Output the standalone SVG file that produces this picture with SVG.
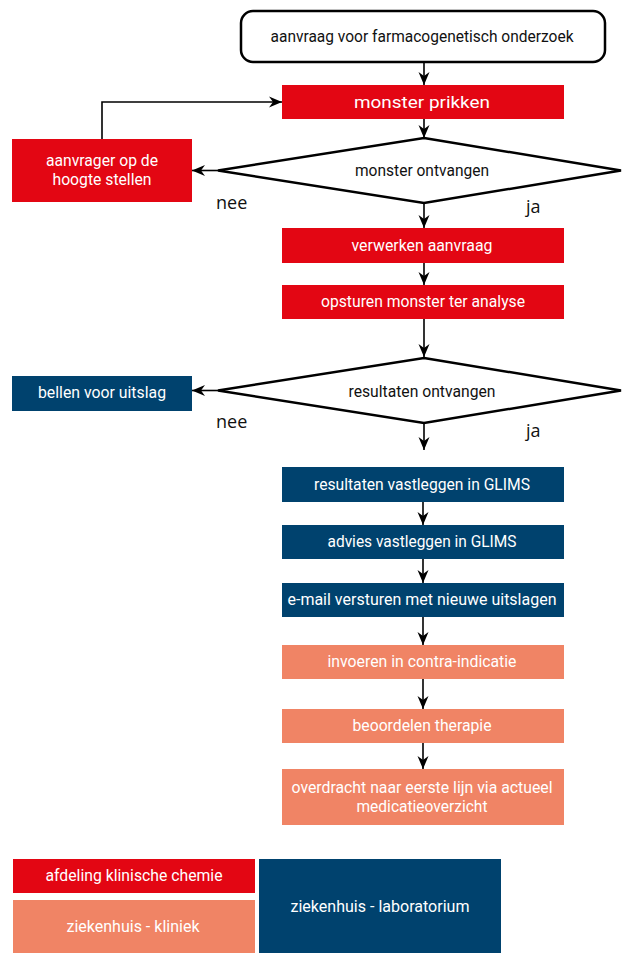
<svg xmlns="http://www.w3.org/2000/svg" width="622" height="953" viewBox="0 0 622 953">
<defs>
<style>
.red{fill:#E30613}
.blue{fill:#00426E}
.sal{fill:#F08465}
.wt{fill:#FFFFFF;font-family:Roboto,"Liberation Sans",sans-serif;font-size:16px;text-anchor:middle}
.bt{fill:#111111;font-family:Roboto,"Liberation Sans",sans-serif;font-size:16px;text-anchor:middle}
.lbl{fill:#111111;font-family:"Open Sans","DejaVu Sans",sans-serif;font-size:18px}
.dia{fill:#FFFFFF;stroke:#000;stroke-width:2.5;stroke-linejoin:miter}
.ln{fill:none;stroke:#000;stroke-width:1.6}
</style>
<marker id="ah" viewBox="0 0 13 12" refX="13" refY="6" markerWidth="13" markerHeight="12" markerUnits="userSpaceOnUse" orient="auto">
<path d="M0,0.5 L13,6 L0,11.5 L4,6 z" fill="#000"/>
</marker>
</defs>
<rect width="622" height="953" fill="#FFFFFF"/>

<g id="connectors">
<line class="ln" x1="424" y1="63" x2="424" y2="85" marker-end="url(#ah)"/>
<line class="ln" x1="424" y1="119" x2="424" y2="138" marker-end="url(#ah)"/>
<line class="ln" x1="218" y1="170.5" x2="192" y2="170.5" marker-end="url(#ah)"/>
<polyline class="ln" points="102,139 102,102 282,102" stroke-width="1.3" marker-end="url(#ah)"/>
<line class="ln" x1="424" y1="204" x2="424" y2="228" marker-end="url(#ah)"/>
<line class="ln" x1="424" y1="263" x2="424" y2="285" marker-end="url(#ah)"/>
<line class="ln" x1="424" y1="319" x2="424" y2="357" marker-end="url(#ah)"/>
<line class="ln" x1="218" y1="390.5" x2="192" y2="390.5" marker-end="url(#ah)"/>
<line class="ln" x1="424" y1="424" x2="424" y2="450" marker-end="url(#ah)"/>
<line class="ln" x1="423" y1="502" x2="423" y2="525" marker-end="url(#ah)"/>
<line class="ln" x1="423" y1="559" x2="423" y2="583" marker-end="url(#ah)"/>
<line class="ln" x1="423" y1="617" x2="423" y2="645" marker-end="url(#ah)"/>
<line class="ln" x1="423" y1="679" x2="423" y2="709" marker-end="url(#ah)"/>
<line class="ln" x1="423" y1="743" x2="423" y2="769" marker-end="url(#ah)"/>
</g>

<g id="start">
<rect x="241" y="11" width="364" height="51" rx="12" ry="12" fill="#FFFFFF" stroke="#000" stroke-width="2.5"/>
<text class="bt" x="422" y="42" textLength="303" lengthAdjust="spacingAndGlyphs">aanvraag voor farmacogenetisch onderzoek</text>
</g>

<g id="monster-prikken">
<rect class="red" x="282" y="85" width="282" height="34"/>
<text class="wt" x="422" y="108" font-size="18" textLength="136" lengthAdjust="spacingAndGlyphs">monster prikken</text>
</g>

<g id="monster-ontvangen">
<polygon class="dia" points="424,138 621,170.5 424,203 218,170.5"/>
<text class="bt" x="422" y="176" textLength="134" lengthAdjust="spacingAndGlyphs">monster ontvangen</text>
</g>

<g id="aanvrager">
<rect class="red" x="12" y="139" width="180" height="63"/>
<text class="wt" x="102" y="166" textLength="112" lengthAdjust="spacingAndGlyphs">aanvrager op de</text>
<text class="wt" x="102" y="185" textLength="99" lengthAdjust="spacingAndGlyphs">hoogte stellen</text>
</g>

<text class="lbl" x="216" y="209">nee</text>
<text class="lbl" x="526" y="213">ja</text>

<g id="verwerken">
<rect class="red" x="282" y="228" width="282" height="35"/>
<text class="wt" x="422" y="251" textLength="141" lengthAdjust="spacingAndGlyphs">verwerken aanvraag</text>
</g>

<g id="opsturen">
<rect class="red" x="282" y="285" width="282" height="34"/>
<text class="wt" x="423" y="307" textLength="204" lengthAdjust="spacingAndGlyphs">opsturen monster ter analyse</text>
</g>

<g id="resultaten-ontvangen">
<polygon class="dia" points="424,358 621,390.5 424,423 218,390.5"/>
<text class="bt" x="422" y="397" textLength="147" lengthAdjust="spacingAndGlyphs">resultaten ontvangen</text>
</g>

<g id="bellen">
<rect class="blue" x="12" y="376" width="180" height="35"/>
<text class="wt" x="102" y="398" textLength="128" lengthAdjust="spacingAndGlyphs">bellen voor uitslag</text>
</g>

<text class="lbl" x="216" y="428">nee</text>
<text class="lbl" x="526" y="437">ja</text>

<g id="resultaten-vastleggen">
<rect class="blue" x="282" y="467" width="282" height="35"/>
<text class="wt" x="422" y="490" textLength="216" lengthAdjust="spacingAndGlyphs">resultaten vastleggen in GLIMS</text>
</g>

<g id="advies">
<rect class="blue" x="282" y="525" width="282" height="34"/>
<text class="wt" x="422" y="547" textLength="189" lengthAdjust="spacingAndGlyphs">advies vastleggen in GLIMS</text>
</g>

<g id="email">
<rect class="blue" x="282" y="583" width="282" height="34"/>
<text class="wt" x="422" y="605" textLength="269" lengthAdjust="spacingAndGlyphs">e-mail versturen met nieuwe uitslagen</text>
</g>

<g id="invoeren">
<rect class="sal" x="282" y="645" width="282" height="34"/>
<text class="wt" x="422" y="667" textLength="189" lengthAdjust="spacingAndGlyphs">invoeren in contra-indicatie</text>
</g>

<g id="beoordelen">
<rect class="sal" x="282" y="709" width="282" height="34"/>
<text class="wt" x="422" y="731" textLength="139" lengthAdjust="spacingAndGlyphs">beoordelen therapie</text>
</g>

<g id="overdracht">
<rect class="sal" x="282" y="769" width="282" height="56"/>
<text class="wt" x="422" y="793" textLength="261" lengthAdjust="spacingAndGlyphs">overdracht naar eerste lijn via actueel</text>
<text class="wt" x="422" y="812" textLength="131" lengthAdjust="spacingAndGlyphs">medicatieoverzicht</text>
</g>

<g id="legend-chemie">
<rect class="red" x="13" y="859" width="242" height="34"/>
<text class="wt" x="134" y="881" textLength="177" lengthAdjust="spacingAndGlyphs">afdeling klinische chemie</text>
</g>

<g id="legend-kliniek">
<rect class="sal" x="13" y="900" width="242" height="53"/>
<text class="wt" x="133" y="932" textLength="133" lengthAdjust="spacingAndGlyphs">ziekenhuis - kliniek</text>
</g>

<g id="legend-laboratorium">
<rect class="blue" x="259" y="859" width="242" height="94"/>
<text class="wt" x="380" y="912" textLength="179" lengthAdjust="spacingAndGlyphs">ziekenhuis - laboratorium</text>
</g>
</svg>
